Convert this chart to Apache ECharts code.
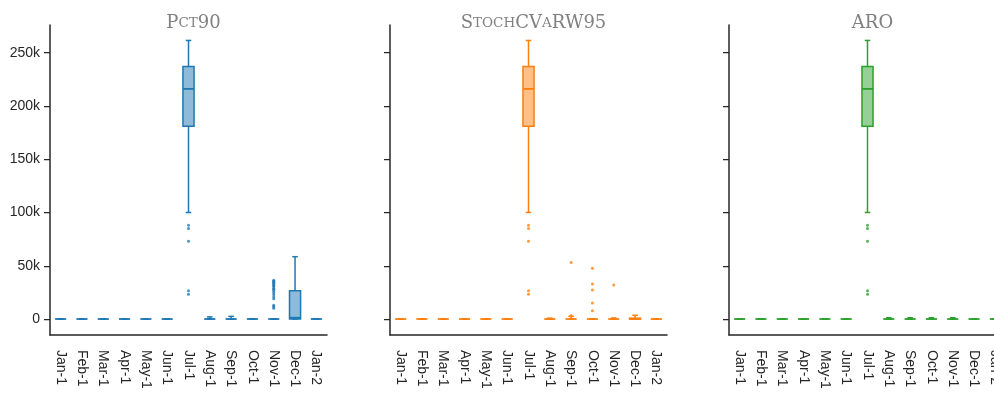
<!DOCTYPE html>
<html>
<head>
<meta charset="utf-8">
<script src="https://cdn.jsdelivr.net/npm/echarts@6/dist/echarts.min.js"></script>
<style>html,body{margin:0;padding:0;background:#fff;overflow:hidden;width:994px;height:395px}#c{width:1012px;height:395px}</style>
</head>
<body>
<div id="c"></div>
<script>
const categories = ['Jan-1','Feb-1','Mar-1','Apr-1','May-1','Jun-1','Jul-1','Aug-1','Sep-1','Oct-1','Nov-1','Dec-1','Jan-2'];
const yTicks = [0, 50000, 100000, 150000, 200000, 250000];

// box stats per category: [min, q1, median, q3, max]
const pct90Boxes = [
  [0,0,0,0,0],[0,0,0,0,0],[0,0,0,0,0],[0,0,0,0,0],[0,0,0,0,0],[0,0,0,0,0],
  [100000,181000,216000,237000,261500],
  [0,0,0,0,2000],[0,0,0,0,2500],[0,0,0,0,0],[0,0,0,0,0],
  [0,0,1200,26600,58500],[0,0,0,0,0]
];
const pct90Outliers = [
  ['Jul-1',88000],['Jul-1',85000],['Jul-1',73000],['Jul-1',26600],['Jul-1',23200],
  ['Nov-1',36500],['Nov-1',35500],['Nov-1',34500],['Nov-1',33500],['Nov-1',32500],['Nov-1',31500],
  ['Nov-1',30500],['Nov-1',29000],['Nov-1',28000],['Nov-1',26500],['Nov-1',25000],['Nov-1',23000],
  ['Nov-1',21000],['Nov-1',19000],['Nov-1',13000],['Nov-1',11500],['Nov-1',10000]
];

const stochBoxes = [
  [0,0,0,0,0],[0,0,0,0,0],[0,0,0,0,0],[0,0,0,0,0],[0,0,0,0,0],[0,0,0,0,0],
  [100000,181000,216000,237000,261500],
  [0,0,0,0,800],[0,0,0,0,2500],[0,0,0,0,0],[0,0,0,0,1000],
  [0,0,0,800,3500],[0,0,0,0,0]
];
const stochOutliers = [
  ['Jul-1',88000],['Jul-1',85000],['Jul-1',73000],['Jul-1',26600],['Jul-1',23200],
  ['Sep-1',53000],['Sep-1',3200],
  ['Oct-1',47600],['Oct-1',32900],['Oct-1',27300],['Oct-1',15000],['Oct-1',7800],
  ['Nov-1',32000]
];

const aroBoxes = [
  [0,0,0,0,0],[0,0,0,0,0],[0,0,0,0,0],[0,0,0,0,0],[0,0,0,0,0],[0,0,0,0,0],
  [100000,181000,216000,237000,261500],
  [0,0,0,0,1200],[0,0,0,0,1200],[0,0,0,0,1200],[0,0,0,0,1200],
  [0,0,0,0,0],[0,0,0,0,0]
];
const aroOutliers = [
  ['Jul-1',88000],['Jul-1',85000],['Jul-1',73000],['Jul-1',26600],['Jul-1',23200]
];

const panels = [
  {boxes: pct90Boxes, outliers: pct90Outliers, color: '#1f77b4', fill: '#8fbbd9',
   title: '{b|P}{s|CT}{b|90}'},
  {boxes: stochBoxes, outliers: stochOutliers, color: '#ff7f0e', fill: '#ffbf87',
   title: '{b|S}{s|TOCH}{b|CV}{s|A}{b|RW95}'},
  {boxes: aroBoxes, outliers: aroOutliers, color: '#2ca02c', fill: '#96d096',
   title: '{b|ARO}'}
];
const lefts = [50, 390, 729];
const axisColor = '#262626';

const chart = echarts.init(document.getElementById('c'));
const option = {
  animation: false,
  backgroundColor: '#fff',
  title: panels.map((p, i) => ({
    text: p.title,
    left: lefts[i] + 138.5,
    top: 9,
    textAlign: 'center',
    textStyle: {
      fontWeight: 'normal',
      rich: {
        b: {fontFamily: 'DejaVu Serif', fontSize: 18, fontWeight: 'normal', color: '#808080'},
        s: {fontFamily: 'DejaVu Serif', fontSize: 13.5, fontWeight: 'normal', color: '#808080'}
      }
    }
  })),
  grid: lefts.map(l => ({left: l, top: 25, width: 277, height: 310})),
  xAxis: lefts.map((l, i) => ({
    type: 'category', gridIndex: i, data: categories, boundaryGap: true,
    axisLine: {onZero: false, lineStyle: {color: axisColor, width: 1.5}},
    axisTick: {alignWithLabel: true, length: 6, lineStyle: {color: axisColor, width: 1.25}},
    axisLabel: {rotate: -90, interval: 0, margin: 15, color: axisColor, fontSize: 14, fontFamily: 'Liberation Sans'},
    splitLine: {show: false}
  })),
  yAxis: lefts.map((l, i) => ({
    type: 'value', gridIndex: i, min: -15000, max: 276000,
    axisLine: {show: true, lineStyle: {color: axisColor, width: 1.5}},
    axisTick: {show: true, length: 6, customValues: yTicks, lineStyle: {color: axisColor, width: 1.25}},
    axisLabel: {show: i === 0, customValues: yTicks, margin: 10, color: axisColor, fontSize: 14, fontFamily: 'Liberation Sans',
      formatter: v => v === 0 ? '0' : (v / 1000) + 'k'},
    splitLine: {show: false}
  })),
  series: []
};

panels.forEach((p, i) => {
  option.series.push({
    type: 'custom', xAxisIndex: i, yAxisIndex: i,
    data: p.boxes.map((b, k) => [k].concat(b)),
    renderItem: function (params, api) {
      const x = api.value(0);
      const band = api.size([1, 0])[0];
      const hw = band * 0.26;
      const cw = hw * 0.5;
      const pMin = api.coord([x, api.value(1)]);
      const pQ1 = api.coord([x, api.value(2)]);
      const pMed = api.coord([x, api.value(3)]);
      const pQ3 = api.coord([x, api.value(4)]);
      const pMax = api.coord([x, api.value(5)]);
      const cx = pMin[0];
      const ls = {stroke: p.color, lineWidth: 1.5};
      const children = [];
      if (Math.abs(pQ1[1] - pMin[1]) > 0.3) children.push({type: 'line', shape: {x1: cx, y1: pMin[1], x2: cx, y2: pQ1[1]}, style: ls});
      if (Math.abs(pQ3[1] - pMax[1]) > 0.3) children.push({type: 'line', shape: {x1: cx, y1: pQ3[1], x2: cx, y2: pMax[1]}, style: ls});
      children.push({type: 'line', shape: {x1: cx - cw, y1: pMin[1], x2: cx + cw, y2: pMin[1]}, style: ls});
      children.push({type: 'line', shape: {x1: cx - cw, y1: pMax[1], x2: cx + cw, y2: pMax[1]}, style: ls});
      if (Math.abs(pQ1[1] - pQ3[1]) > 0.3) {
        children.push({type: 'rect', shape: {x: cx - hw, y: pQ3[1], width: 2 * hw, height: pQ1[1] - pQ3[1]},
          style: {fill: p.fill, stroke: p.color, lineWidth: 1.5}});
      }
      children.push({type: 'line', shape: {x1: cx - hw, y1: pMed[1], x2: cx + hw, y2: pMed[1]}, style: {stroke: p.color, lineWidth: 1.8}});
      return {type: 'group', children: children};
    }
  });
  option.series.push({
    type: 'scatter', xAxisIndex: i, yAxisIndex: i,
    data: p.outliers, symbol: 'circle', symbolSize: 3,
    itemStyle: {color: p.color}
  });
});

chart.setOption(option);
</script>
</body>
</html>
